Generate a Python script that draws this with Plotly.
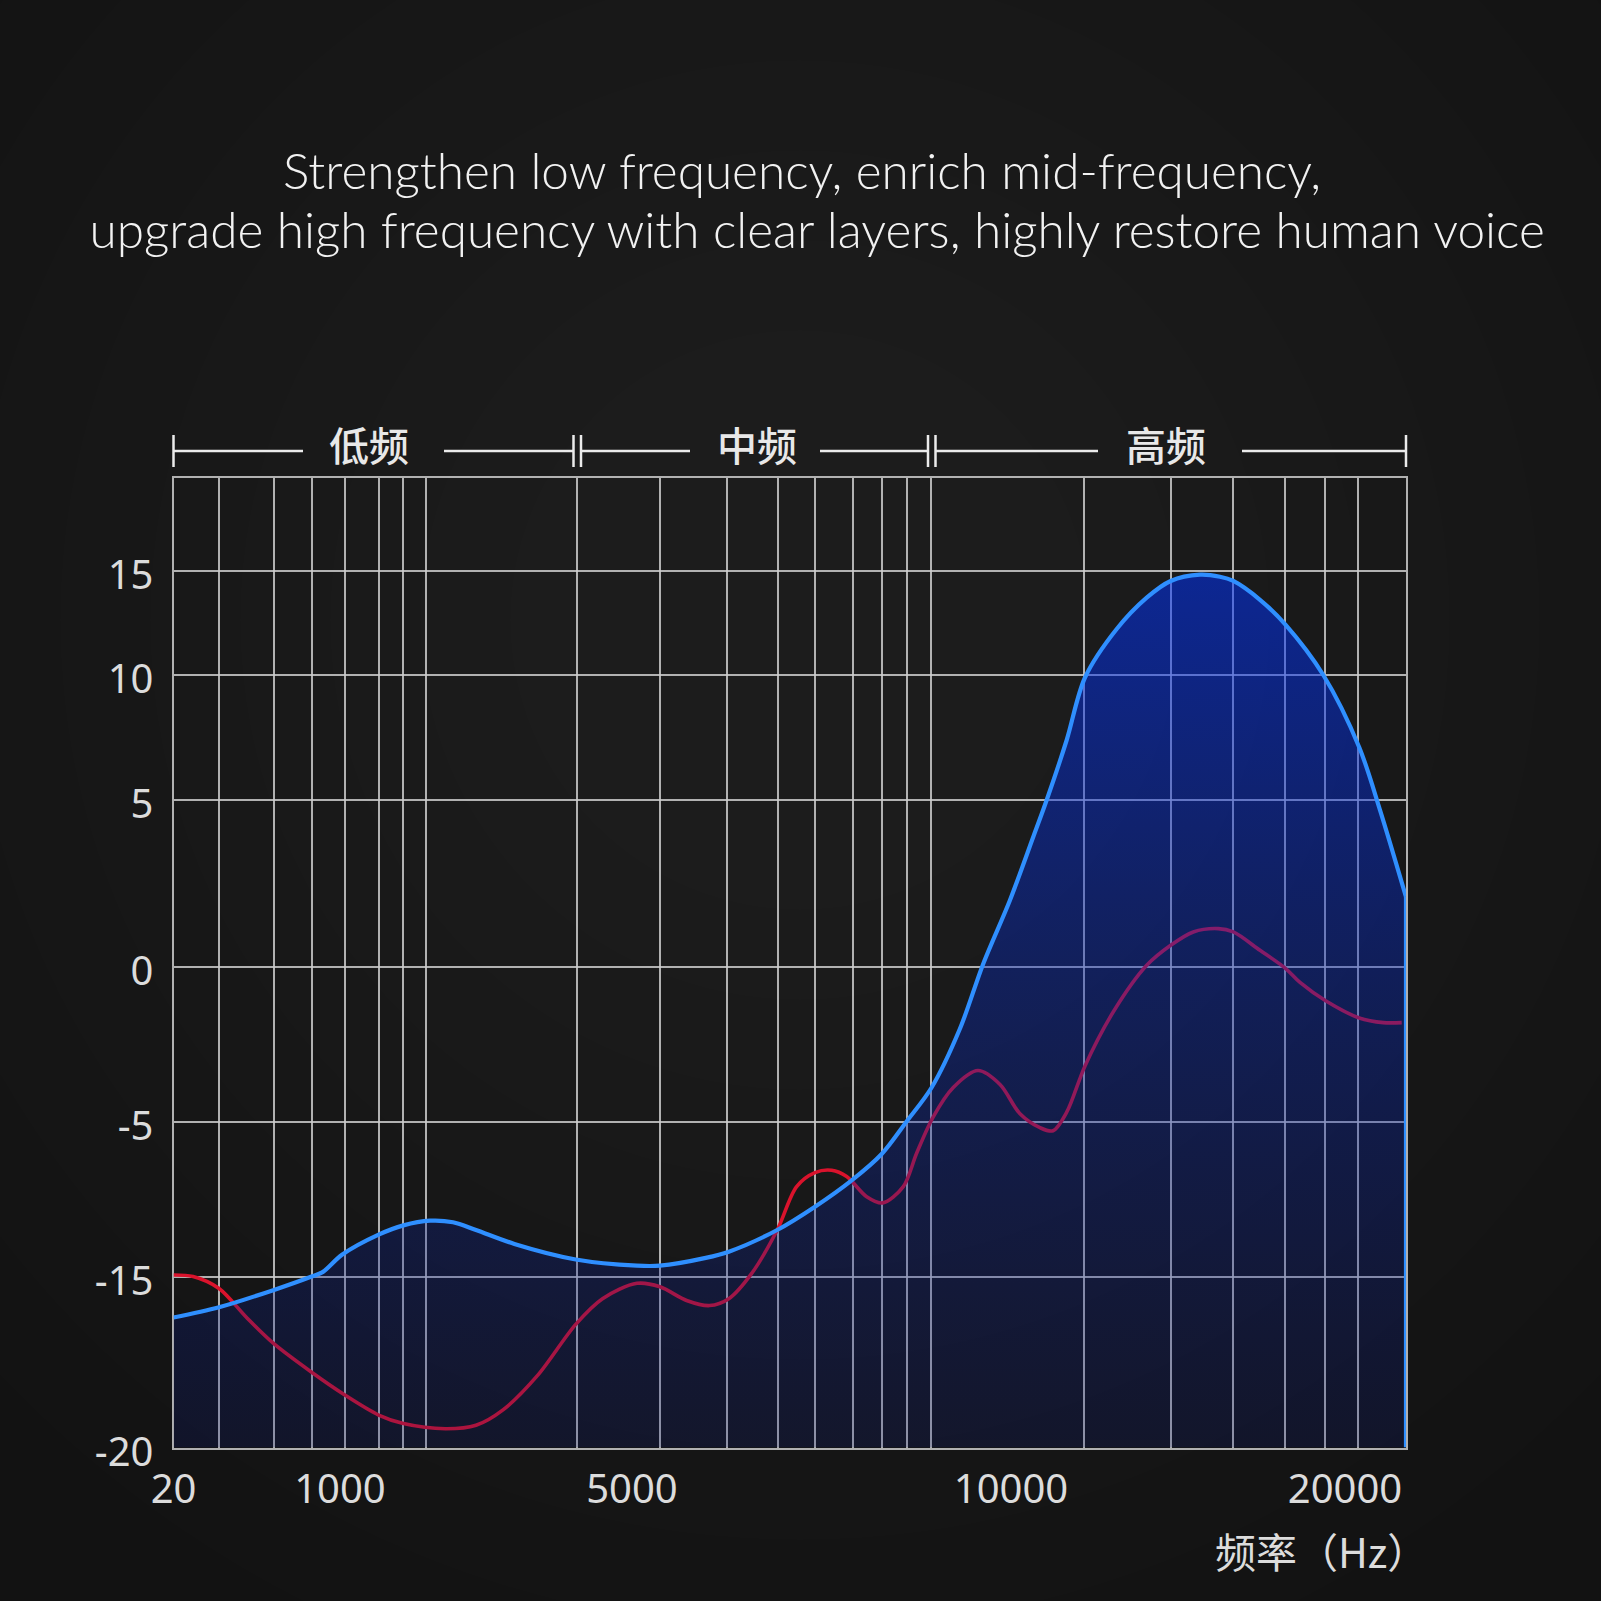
import numpy as np
import plotly.graph_objects as go

W = H = 1601

# ---------------- data ----------------
TITLE_LINES = [
    "Strengthen low frequency, enrich mid-frequency,",
    " upgrade high frequency with clear layers, highly restore human voice",
]
BAND_LABELS = ["低频", "中频", "高频"]
X_TITLE = "频率（Hz）"

X_TICK_HZ = [20, 1000, 5000, 10000, 20000]
X_TICK_TEXT = ["20", "1000", "5000", "10000", "20000"]
Y_TICK_DB = [-20, -15, -5, 0, 5, 10, 15]
Y_TICK_TEXT = ["-20", "-15", "-5", "0", "5", "10", "15"]

BLUE_HZ = [20, 288, 607, 833, 900, 1027, 1529, 1869, 2233, 2548, 2863, 3389, 4229,
           5065, 5368, 5973, 6277, 6916, 7414, 7898, 8294, 8623, 8953, 9326, 9634,
           9986, 10668, 11069, 11668, 12216, 13165, 14063, 14781, 15659, 16257,
           16655, 17455, 18224, 19350, 20428, 21048, 21826]
BLUE_DB = [-16.2, -15.9, -15.4, -15.0, -14.7, -13.6, -12.3, -11.7, -11.4, -11.5, -12.0,
           -12.9, -13.9, -14.3, -14.3, -13.8, -13.4, -12.0, -10.5, -8.8, -7.1, -5.0,
           -3.9, -2.0, 0.1, 2.0, 3.9, 5.0, 7.4, 9.9, 12.2, 13.7, 14.5, 14.8, 14.7,
           14.5, 13.6, 12.4, 10.0, 7.1, 4.7, 2.1]

RED_HZ = [20, 135, 288, 450, 607, 833, 1055, 1529, 1869, 2445, 2863, 3233, 3704, 4229,
          4596, 5065, 5368, 5720, 6023, 6277, 6579, 6916, 7172, 7414, 7634, 7832, 8096,
          8307, 8579, 8755, 8974, 9238, 9564, 9855, 10269, 10868, 11258, 11668, 12216,
          13064, 14063, 14781, 15458, 16206, 16655, 17455, 18224, 18652, 19431, 20428,
          21147, 21698]
RED_DB = [-14.9, -15.0, -15.35, -16.2, -16.95, -17.8, -18.45, -19.05, -19.3, -19.45,
          -19.35, -18.9, -17.9, -16.4, -15.65, -15.2, -15.3, -15.7, -15.85, -15.65,
          -14.8, -12.0, -9.2, -8.3, -8.15, -8.55, -9.85, -10.25, -9.2, -7.05, -4.85,
          -3.9, -3.35, -3.8, -4.75, -5.4, -5.6, -4.7, -3.2, -1.45, 0.05, 0.65, 1.05,
          1.15, 1.05, 0.5, -0.05, -0.5, -1.1, -1.65, -1.8, -1.8]

# ---------------- drawn (warped) scale geometry ----------------
X_SCALE_HZ = X_TICK_HZ + [21826]
X_SCALE_POS = [0, 166.5, 458.5, 837.5, 1171.5, 1232.5]
Y_SCALE_POS = [0, 171, 326, 480.5, 647.5, 772.5, 877]
Y_TOP = 969.5
V_GRID_POS = [0, 45.5, 100, 138, 171.5, 205, 229.5, 252.5, 403, 486.5, 553.5, 604,
              641.5, 679.5, 708.5, 733.5, 757.5, 910.5, 997.5, 1059.5, 1111.5, 1151.5,
              1184.5, 1232.5]


def xpos(hz):
    return np.interp(np.asarray(hz, float), X_SCALE_HZ, X_SCALE_POS)


def ypos(db):
    return np.interp(np.asarray(db, float), Y_TICK_DB, Y_SCALE_POS)


# plot box in page pixels
PL, PR, PT, PB = 173.5, 1406, 478, 1447.5
GRID = "rgba(205,205,205,0.85)"
BLUE = "#2f8fff"
RED = "#da132c"
TXT = "#dcdcdc"

fig = go.Figure()

fig.add_trace(go.Scatter(
    x=xpos(RED_HZ), y=ypos(RED_DB), mode="lines",
    line=dict(color=RED, width=3.6, shape="spline", smoothing=0.9),
    hoverinfo="skip"))

fig.add_trace(go.Scatter(
    x=xpos(BLUE_HZ), y=ypos(BLUE_DB), mode="lines",
    line=dict(color=BLUE, width=4.2, shape="spline", smoothing=0.9),
    fill="tozeroy",
    fillgradient=dict(
        type="vertical",
        start=float(ypos(-20)), stop=float(ypos(15)),
        colorscale=[[0, "rgba(10,25,125,0.21)"],
                    [0.5, "rgba(6,40,185,0.38)"],
                    [1, "rgba(0,50,255,0.53)"]]),
    hoverinfo="skip"))

# right-edge drop of the blue response
fig.add_trace(go.Scatter(
    x=[xpos(BLUE_HZ[-1])] * 2, y=[ypos(BLUE_DB[-1]), ypos(Y_TICK_DB[0])],
    mode="lines", line=dict(color=BLUE, width=4.2), hoverinfo="skip"))

# carrier for the labelled overlay axis
fig.add_trace(go.Scatter(x=[], y=[], xaxis="x2", hoverinfo="skip"))

fig.update_layout(
    width=W, height=H, margin=dict(l=0, r=0, t=0, b=0),
    paper_bgcolor="#121212", plot_bgcolor="rgba(0,0,0,0)",
    showlegend=False,
    xaxis=dict(domain=[PL / W, PR / W], range=[0, X_SCALE_POS[-1]],
               tickvals=V_GRID_POS, showticklabels=False, ticks="",
               showgrid=True, gridcolor=GRID, gridwidth=2, zeroline=False,
               showline=True, mirror=True, linecolor=GRID, linewidth=2,
               layer="below traces", fixedrange=True, automargin=False),
    xaxis2=dict(overlaying="x", range=[0, X_SCALE_POS[-1]],
                tickvals=xpos(X_TICK_HZ), ticktext=X_TICK_TEXT, ticks="",
                showgrid=False, zeroline=False, showline=False, side="bottom",
                ticklabelstandoff=14,
                tickfont=dict(family="Noto Sans", size=40, color=TXT),
                fixedrange=True, automargin=False),
    yaxis=dict(domain=[1 - PB / H, 1 - PT / H], range=[0, Y_TOP],
               tickvals=ypos(Y_TICK_DB), ticktext=Y_TICK_TEXT, ticks="",
               showgrid=True, gridcolor=GRID, gridwidth=2, zeroline=False,
               showline=True, mirror=True, linecolor=GRID, linewidth=2,
               ticklabelstandoff=10, ticklabelshift=4,
               tickfont=dict(family="Noto Sans", size=40, color=TXT),
               layer="below traces", fixedrange=True, automargin=False),
)

shapes = []
# soft radial glow of the background
CX, CY = 800, 620
for r in [1100, 1010, 920, 830, 740, 650, 560, 470, 380, 290]:
    shapes.append(dict(type="circle", xref="paper", yref="paper", layer="below",
                       x0=(CX - r) / W, x1=(CX + r) / W,
                       y0=1 - (CY + r) / H, y1=1 - (CY - r) / H,
                       fillcolor="rgba(255,255,255,0.009)", line=dict(width=0)))

# band header (low / mid / high)
HY = 451
HEAD = "rgba(235,235,235,1)"
for x0, x1 in [(173.5, 303), (444, 573.5), (581, 690), (820, 928), (935.5, 1098), (1242, 1406)]:
    shapes.append(dict(type="line", xref="paper", yref="paper", x0=x0 / W, x1=x1 / W,
                       y0=1 - HY / H, y1=1 - HY / H, line=dict(color=HEAD, width=2.5)))
for xt in [173.5, 573.5, 581, 928, 935.5, 1406]:
    shapes.append(dict(type="line", xref="paper", yref="paper", x0=xt / W, x1=xt / W,
                       y0=1 - 435 / H, y1=1 - 467 / H, line=dict(color=HEAD, width=2.5)))
fig.update_layout(shapes=shapes)

ann = []
for label, cx in zip(BAND_LABELS, [369, 756.5, 1166]):
    ann.append(dict(text=label, x=cx / W, y=1 - 444 / H, xref="paper", yref="paper",
                    showarrow=False, xanchor="center", yanchor="middle",
                    font=dict(family="Noto Sans CJK SC", size=40, color="#e8e8e8",
                              weight=500)))
for line, (cx, cy) in zip(TITLE_LINES, [(801.5, 170.5), (810, 229)]):
    ann.append(dict(text=line, x=cx / W, y=1 - cy / H, xref="paper", yref="paper",
                    showarrow=False, xanchor="center", yanchor="middle",
                    font=dict(family="Lato", size=49.5, color="#f2f2f2", weight=300)))
ann.append(dict(text=X_TITLE, x=1321 / W, y=1 - 1550 / H, xref="paper", yref="paper",
                showarrow=False, xanchor="center", yanchor="middle",
                font=dict(family="Noto Sans CJK SC", size=41, color=TXT)))
fig.update_layout(annotations=ann)

fig.write_html("out.html")
